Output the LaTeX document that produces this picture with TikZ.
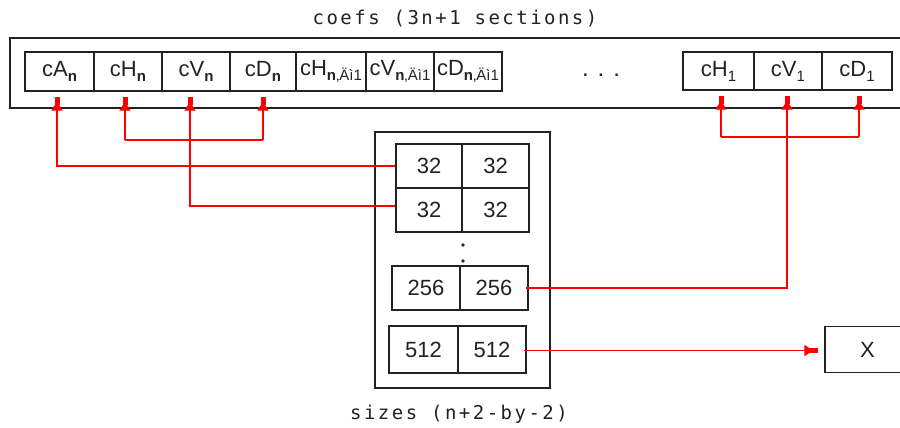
\documentclass[tikz,border=0pt]{standalone}
\usepackage{fontspec}
\setmainfont{Liberation Sans}
\newfontfamily\monofont[LetterSpace=13]{DejaVu Sans Mono}
\usetikzlibrary{arrows.meta}
\definecolor{lc}{HTML}{222222}
\newcommand{\sbs}[1]{\raisebox{-5pt}{\fontsize{15}{15}\selectfont #1}}
\newcommand{\bn}{\textbf{n}}
\begin{document}
\begin{tikzpicture}[x=1pt,y=-1pt,
  box/.style={draw=lc,line width=1.4pt,inner sep=0pt},
  cell/.style={draw=lc,line width=1.3pt,inner sep=0pt,minimum height=39pt,
    font=\fontsize{22}{22}\selectfont,text=lc},
  gcell/.style={cell,minimum height=44pt},
  lbl/.style={font=\monofont\fontsize{19}{19}\selectfont,text=lc},
  link/.style={draw=red,line width=1.3pt},
  arr/.style={-{Triangle[width=11pt,length=9pt,sep=-3pt]Rectangle[width=5pt,length=8pt]}}]
\useasboundingbox (0,0) rectangle (900,428);
\clip (0,0) rectangle (900,428);
% title
\node[lbl] (title) at (455,19) {coefs (3n+1 sections)};
% outer coefs box
\node[box,minimum width=900pt,minimum height=70pt] (coefs) at (460,73) {};
% coefficient cells
\node[cell,minimum width=69pt] (cAn) at (59.5,71.5) {cA\sbs{\bn}};
\node[cell,minimum width=68pt] (cHn) at (128,71.5) {cH\sbs{\bn}};
\node[cell,minimum width=68pt] (cVn) at (196,71.5) {cV\sbs{\bn}};
\node[cell,minimum width=66pt] (cDn) at (263,71.5) {cD\sbs{\bn}};
\node[cell,minimum width=70pt] (cHm) at (331,71.5) {cH\sbs{\bn‚Äì1}};
\node[cell,minimum width=68pt] (cVm) at (400,71.5) {cV\sbs{\bn‚Äì1}};
\node[cell,minimum width=68pt] (cDm) at (468,71.5) {cD\sbs{\bn‚Äì1}};
\node[font=\fontsize{24}{24}\selectfont,text=lc,inner sep=0pt] (hdots) at (601,75) {.\hspace{9pt}.\hspace{9pt}.};
\node[cell,minimum width=71pt,minimum height=38pt] (cH1) at (718.5,71) {cH\sbs{1}};
\node[cell,minimum width=68pt,minimum height=38pt] (cV1) at (788,71) {cV\sbs{1}};
\node[cell,minimum width=70pt,minimum height=38pt] (cD1) at (857,71) {cD\sbs{1}};
% sizes box
\node[box,minimum width=175pt,minimum height=256pt] (sizes) at (462.5,260) {};
\node[gcell,minimum width=66pt] (s11) at (429,166) {32};
\node[gcell,minimum width=67pt] (s12) at (495.5,166) {32};
\node[gcell,minimum width=66pt] (s21) at (429,210) {32};
\node[gcell,minimum width=67pt] (s22) at (495.5,210) {32};
\fill[lc] (463,245) circle (1.9pt) (463,261) circle (1.9pt);
\node[gcell,minimum width=68pt] (s256a) at (426,288) {256};
\node[gcell,minimum width=68pt] (s256b) at (494,288) {256};
\node[gcell,minimum width=69pt,minimum height=47pt] (s512a) at (423.5,349.5) {512};
\node[gcell,minimum width=68pt,minimum height=47pt] (s512b) at (492,349.5) {512};
\node[lbl] (sizeslbl) at (459,414) {sizes (n+2-by-2)};
% X box
\node[cell,minimum width=85pt,minimum height=46pt] (X) at (867.5,349.5) {X};
% connectors
\draw[link,arr] (s11.west) -| ([xshift=-2.5pt,yshift=-5pt]cAn.south);
\draw[link,arr] ([yshift=4pt]s21.west) -| ([xshift=-6pt,yshift=-5pt]cVn.south);
\coordinate (bH) at (125,140);
\coordinate (bD) at (263,140);
\draw[link] (bH) -- (bD);
\draw[link,arr] (bH) -- ([xshift=-3pt,yshift=-5pt]cHn.south);
\draw[link,arr] (bD) -- ([yshift=-5pt]cDn.south);
\coordinate (rH) at (721,137);
\coordinate (rD) at (859,137);
\draw[link] (rH) -- (rD);
\draw[link,arr] (rH) -- ([xshift=2.5pt,yshift=-5pt]cH1.south);
\draw[link,arr] (rD) -- ([xshift=2pt,yshift=-5pt]cD1.south);
\draw[link,arr] ([xshift=-3pt]s256b.east) -| ([xshift=-1pt,yshift=-5pt]cV1.south);
\draw[link,arr] ([xshift=-3pt,yshift=-1pt]s512b.east) -- ([xshift=-6pt,yshift=-1pt]X.west);
\end{tikzpicture}
\end{document}
